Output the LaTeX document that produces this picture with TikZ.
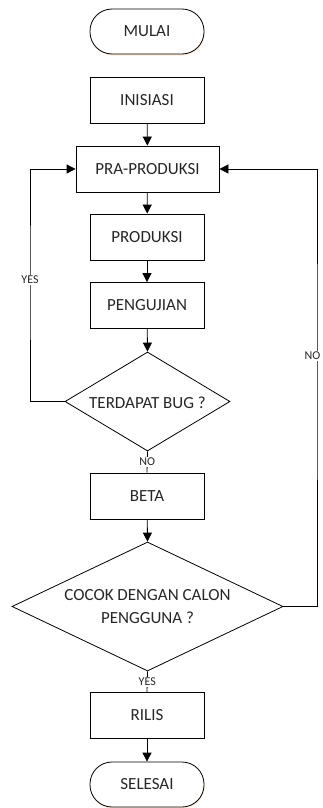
\documentclass[tikz,border=0pt]{standalone}
\usepackage{fontspec}
\setmainfont{Carlito}
\usetikzlibrary{arrows.meta,shapes.geometric,shadows}

\begin{document}
\begin{tikzpicture}[x=1pt,y=-1pt,
  every node/.style={font=\fontsize{17}{19}\selectfont, text=black!85, inner sep=0pt},
  procbox/.style={draw, line width=0.8pt, rectangle, minimum width=114pt, minimum height=46pt},
  termbox/.style={draw, line width=0.8pt, rectangle, rounded corners=22pt, fill=white,
    minimum width=114pt, minimum height=45pt,
    drop shadow={shadow xshift=0.6pt, shadow yshift=-1.6pt, fill=orange!45, opacity=0.35}},
  decbox/.style={draw, line width=0.8pt, diamond},
  flow/.style={line width=0.8pt, -{Triangle[length=9pt,width=9pt]}},
  link/.style={line width=0.8pt},
  tag/.style={font=\fontsize{12}{13}\selectfont, fill=white, inner sep=1pt}]

\useasboundingbox (0,0) rectangle (322,808);

% process blocks
\node[termbox] (mulai) at (147,31.5) {MULAI};
\node[procbox] (inisiasi) at (147,100) {INISIASI};
\node[procbox, minimum width=143pt] (pra) at (147.5,169) {PRA-PRODUKSI};
\node[procbox] (produksi) at (147,237) {PRODUKSI};
\node[procbox] (uji) at (147,305.5) {PENGUJIAN};
\node[decbox, minimum width=165pt, minimum height=99pt] (bug) at (147.5,401.5) {};
\node (bugtxt) at (147.5,403) {TERDAPAT BUG ?};
\node[procbox] (beta) at (147,496) {BETA};
\node[decbox, minimum width=271pt, minimum height=129pt] (cocok) at (147.5,606.5) {};
\node[align=center, font=\fontsize{17}{23}\selectfont] (cocoktxt) at (147.5,607)
  {COCOK DENGAN CALON\\PENGGUNA ?};
\node[procbox] (rilis) at (147,715.5) {RILIS};
\node[termbox] (selesai) at (147,784.5) {SELESAI};

% loop-back corners
\coordinate (lft) at (30,280);
\coordinate (rgt) at (317,356);

% main flow
\draw[flow] (inisiasi) -- (pra);
\draw[flow] (pra) -- (produksi);
\draw[flow] (produksi) -- (uji);
\draw[flow] (uji) -- (bug.north);
\draw[link] (bug.south) -- node[tag] {NO} (beta.north);
\draw[flow] (beta) -- (cocok.north);
\draw[link] (cocok.south) -- node[tag] {YES} (rilis.north);
\draw[flow] (rilis) -- (selesai);

% feedback loops
\draw[flow] (bug.west) -| (lft) |- (pra.west);
\node[tag] (yestag) at (lft) {YES};
\draw[flow] (cocok.east) -| (rgt) |- (pra.east);
\node[tag, anchor=east] (notag) at ([xshift=4.5pt]rgt) {NO};

\end{tikzpicture}
\end{document}
